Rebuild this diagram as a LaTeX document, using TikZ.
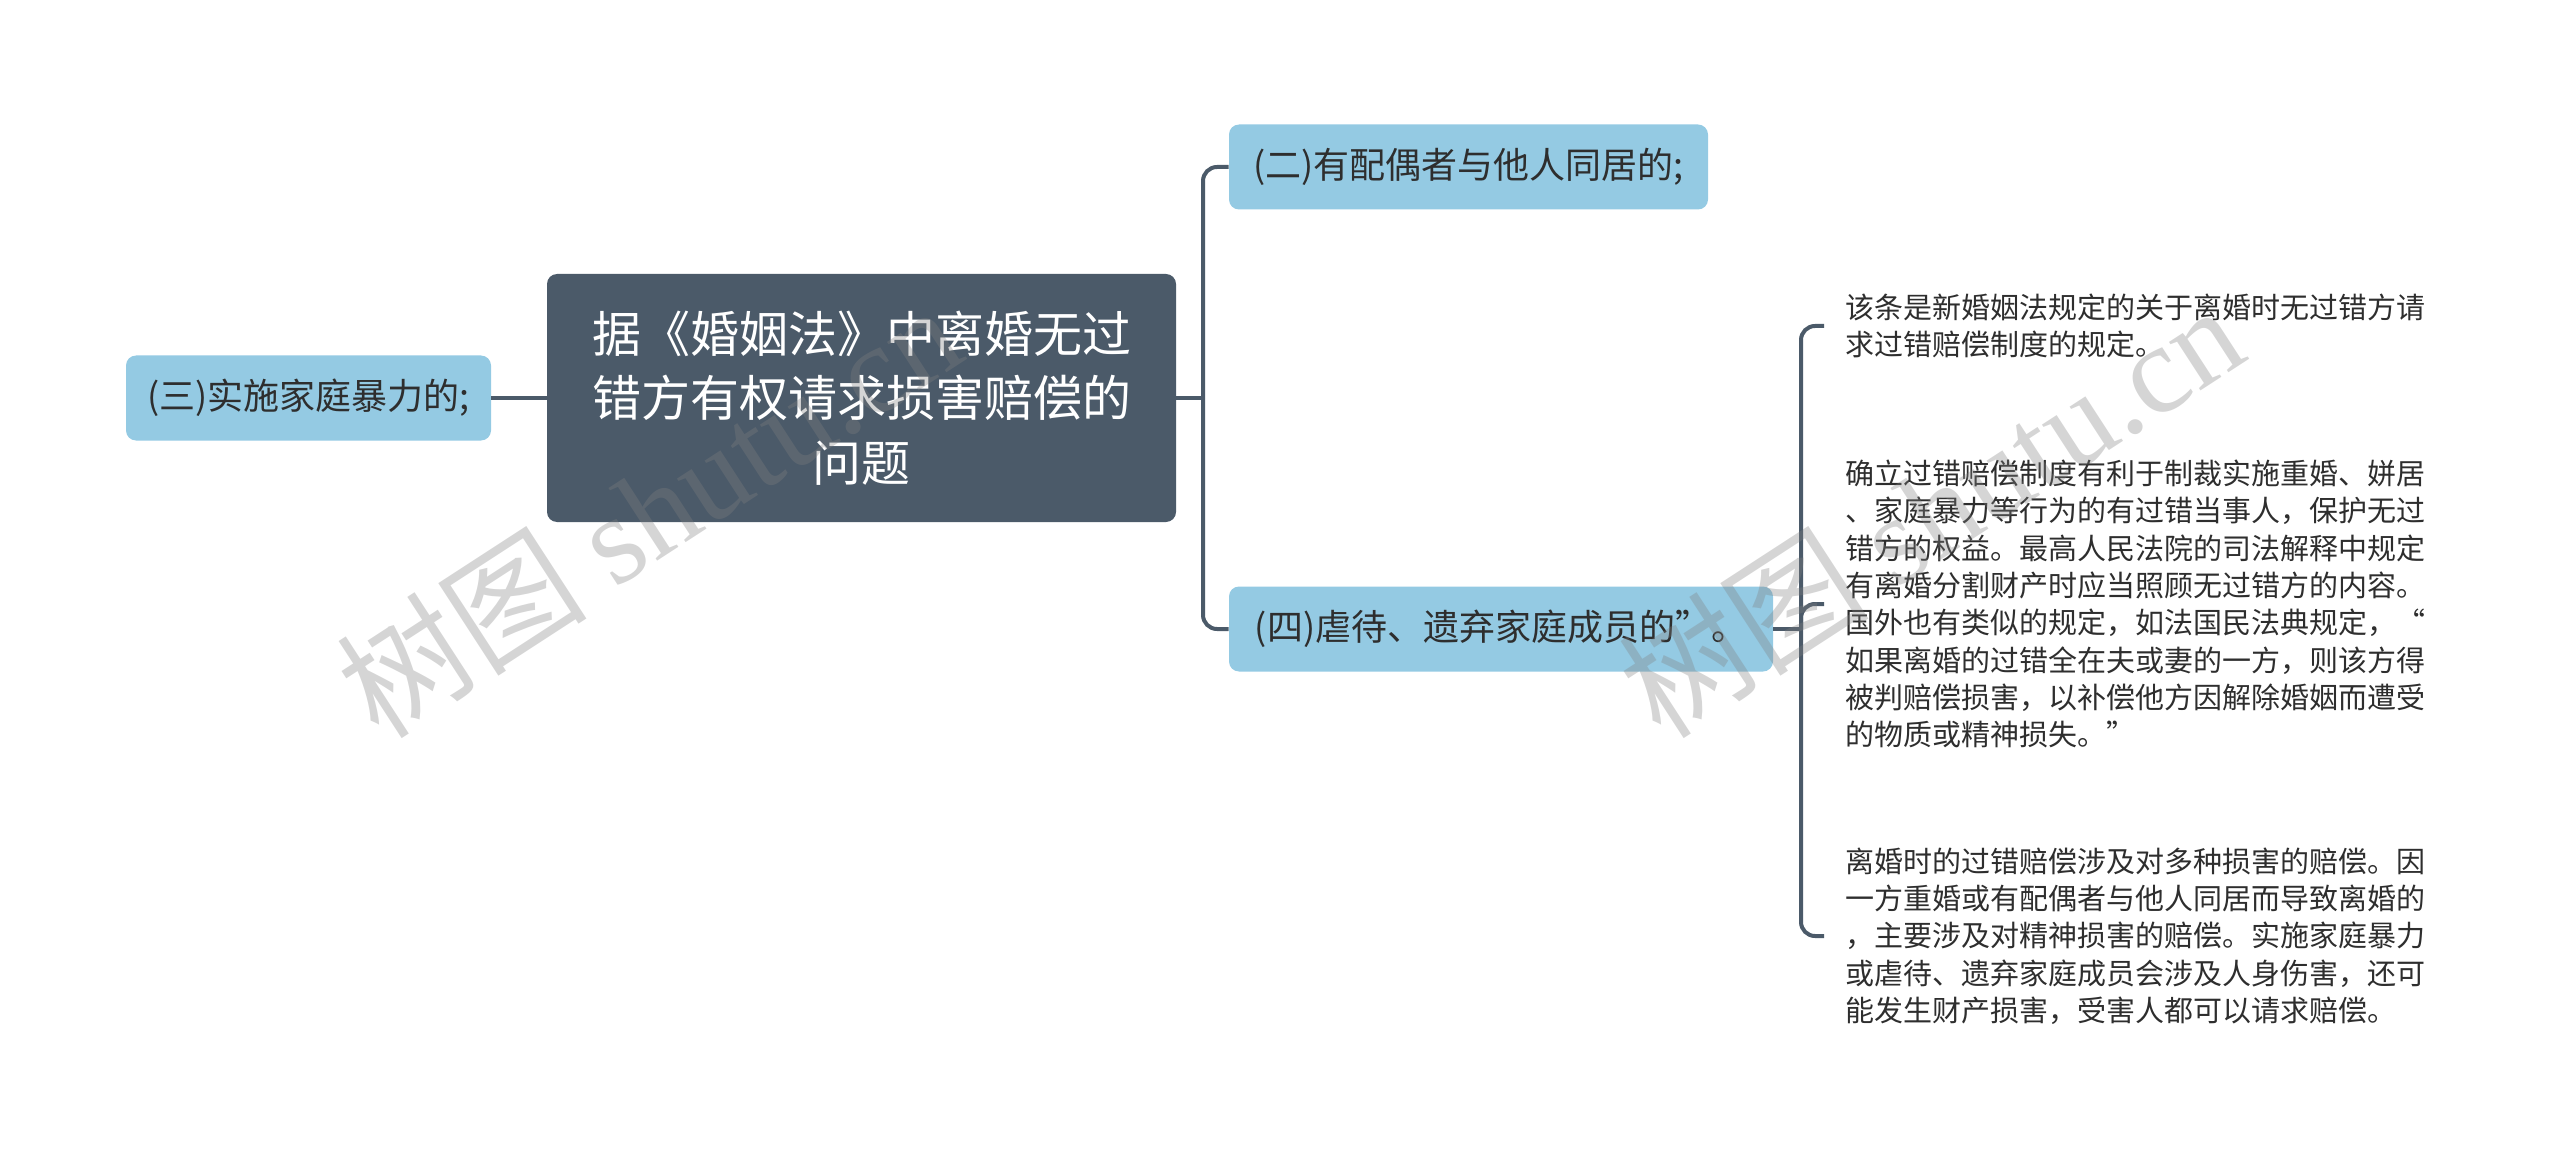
\documentclass[tikz,border=0pt]{standalone}
\usepackage{fontspec}
\setmainfont{Noto Sans CJK SC}
\newfontfamily\wmlatin{Liberation Serif}
\definecolor{darkslate}{HTML}{4B5A69}
\definecolor{lblue}{HTML}{94CAE3}
\definecolor{txtc}{HTML}{2E2E2E}
\begin{document}
\begin{tikzpicture}[x=0.5pt,y=-0.5pt,
  central/.style={fill=darkslate, rounded corners=5pt, minimum width=314.5pt, minimum height=124pt, text=white, font=\fontsize{24.5pt}{32.25pt}\selectfont, align=center, inner sep=0pt},
  child/.style={fill=lblue, rounded corners=5pt, minimum height=42.5pt, text=txtc, font=\fontsize{18pt}{22pt}\selectfont, inner sep=0pt},
  leaf/.style={anchor=west, inner xsep=10.5pt, inner ysep=0pt, text=txtc, align=left, font=\fontsize{14.5pt}{18.65pt}\selectfont},
  conn/.style={draw=darkslate, line width=2pt, rounded corners=7pt},
  wm/.style={text=gray, opacity=0.33, rotate=33, inner sep=0pt}
]
\useasboundingbox (0,0) rectangle (2560,1166);

\node[central] (c) at (861.5,398) {据《婚姻法》中离婚无过\\错方有权请求损害赔偿的\\问题};
\node[child, minimum width=182.5pt] (n3) at (308.5,398) {(三)实施家庭暴力的;};
\node[child, minimum width=239.5pt] (n2) at (1468.5,167) {(二)有配偶者与他人同居的;};
\node[child, minimum width=272pt] (n4) at (1501,629) {(四)虐待、遗弃家庭成员的”。};

\node[leaf] (t1) at (1824,326) {该条是新婚姻法规定的关于离婚时无过错方请\\求过错赔偿制度的规定。};
\node[leaf] (t2) at (1824,604) {确立过错赔偿制度有利于制裁实施重婚、姘居\\、家庭暴力等行为的有过错当事人，保护无过\\错方的权益。最高人民法院的司法解释中规定\\有离婚分割财产时应当照顾无过错方的内容。\\国外也有类似的规定，如法国民法典规定，“\\如果离婚的过错全在夫或妻的一方，则该方得\\被判赔偿损害，以补偿他方因解除婚姻而遭受\\的物质或精神损失。”};
\node[leaf] (t3) at (1824,936) {离婚时的过错赔偿涉及对多种损害的赔偿。因\\一方重婚或有配偶者与他人同居而导致离婚的\\，主要涉及对精神损害的赔偿。实施家庭暴力\\或虐待、遗弃家庭成员会涉及人身伤害，还可\\能发生财产损害，受害人都可以请求赔偿。};

\coordinate (j1) at (1203,398);
\coordinate (j2) at (1801,629);

\draw[conn] (n3.east) -- (c.west);
\draw[conn] (c.east) -- (j1);
\draw[conn] (j1) |- (n2.west);
\draw[conn] (j1) |- (n4.west);
\draw[conn] (n4.east) -- (j2);
\draw[conn] (j2) |- (t1.west);
\draw[conn] (j2) |- (t2.west);
\draw[conn] (j2) |- (t3.west);

\node[wm] (w1) at (648,510) {\fontsize{63pt}{63pt}\selectfont 树图 {\wmlatin shutu.cn}};
\node[wm] (w2) at (1930,510) {\fontsize{63pt}{63pt}\selectfont 树图 {\wmlatin shutu.cn}};
\end{tikzpicture}
\end{document}
